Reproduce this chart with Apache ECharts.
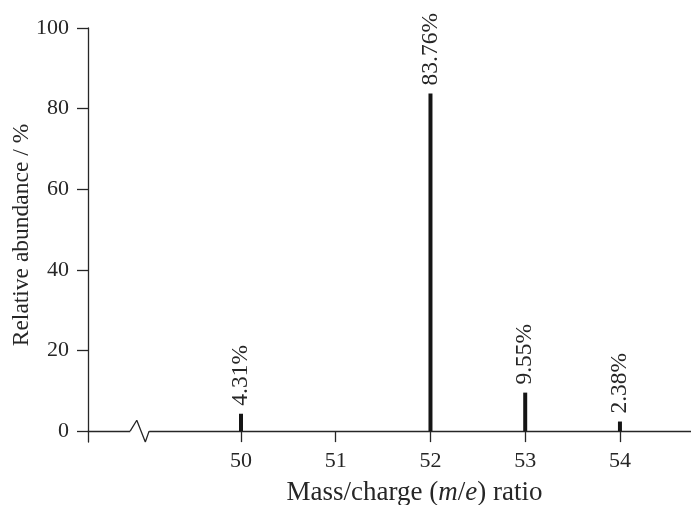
<!DOCTYPE html>
<html>
<head>
<meta charset="utf-8">
<title>Mass spectrum</title>
<script src="https://cdn.jsdelivr.net/npm/echarts@6/dist/echarts.min.js"></script>
<style>
  html, body { margin: 0; padding: 0; background: #fff; }
  #chart { width: 691px; height: 505px; }
</style>
</head>
<body>
<div id="chart"></div>
<script>
// isotope masses and abundances (%)
var masses = [50, 51, 52, 53, 54];
var peakMasses = [50, 52, 53, 54];
var abundances = [4.31, 83.76, 9.55, 2.38];
var peakLabels = ['4.31%', '83.76%', '9.55%', '2.38%'];
var yTicks = [0, 20, 40, 60, 80, 100];
// axis break mark (data units)
var breakGap = [[48.83, 0], [49.03, 0]];
var breakMark = [[48.83, 0], [48.90, 2.7], [48.99, -2.7], [49.03, 0]];

var font = '"Liberation Serif", "DejaVu Serif", serif';
var ink = '#262626';

var peaks = peakMasses.map(function (m, i) { return [m, abundances[i]]; });

var chart = echarts.init(document.getElementById('chart'));
chart.setOption({
  animation: false,
  textStyle: { fontFamily: font },
  grid: { left: 88, right: 0, top: 28, bottom: 63, outerBoundsMode: 'none', containLabel: false },
  xAxis: {
    type: 'value',
    min: 48.385,
    max: 54.75,
    name: '{n|Mass/charge (}{i|m}{n|/}{i|e}{n|) ratio}',
    nameLocation: 'middle',
    nameGap: 37,
    nameTextStyle: {
      padding: [0, 0, 0, 50],
      rich: {
        n: { fontFamily: font, fontSize: 27, color: ink },
        i: { fontFamily: font, fontSize: 27, color: ink, fontStyle: 'italic' }
      }
    },
    axisLine: { onZero: true, lineStyle: { color: ink, width: 1.3 } },
    axisTick: { show: true, length: 11, inside: false, customValues: masses, lineStyle: { color: ink, width: 1.3 } },
    axisLabel: { customValues: masses, fontFamily: font, fontSize: 22, color: ink, margin: 8 },
    splitLine: { show: false }
  },
  yAxis: {
    type: 'value',
    min: -2.7,
    max: 100,
    name: 'Relative abundance / %',
    nameLocation: 'middle',
    nameGap: 54,
    nameMoveOverlap: false,
    nameTextStyle: { fontFamily: font, fontSize: 23.5, color: ink },
    axisLine: { show: true, lineStyle: { color: ink, width: 1.3 } },
    axisTick: { show: true, length: 11, inside: false, customValues: yTicks, lineStyle: { color: ink, width: 1.3 } },
    axisLabel: { customValues: yTicks, fontFamily: font, fontSize: 22, color: ink, margin: 19 },
    splitLine: { show: false }
  },
  series: [
    {
      type: 'bar',
      data: peaks,
      barWidth: 4,
      itemStyle: { color: '#151515' },
      label: {
        show: true,
        position: 'top',
        rotate: 90,
        align: 'left',
        verticalAlign: 'middle',
        distance: 8,
        fontFamily: font,
        fontSize: 23.5,
        color: ink,
        formatter: function (p) { return peakLabels[p.dataIndex]; }
      }
    },
    {
      type: 'line',
      data: breakGap,
      symbol: 'none',
      silent: true,
      lineStyle: { color: '#fff', width: 4 },
      z: 5
    },
    {
      type: 'line',
      data: breakMark,
      symbol: 'none',
      silent: true,
      lineStyle: { color: ink, width: 1.3 },
      z: 6
    }
  ]
});
</script>
</body>
</html>
